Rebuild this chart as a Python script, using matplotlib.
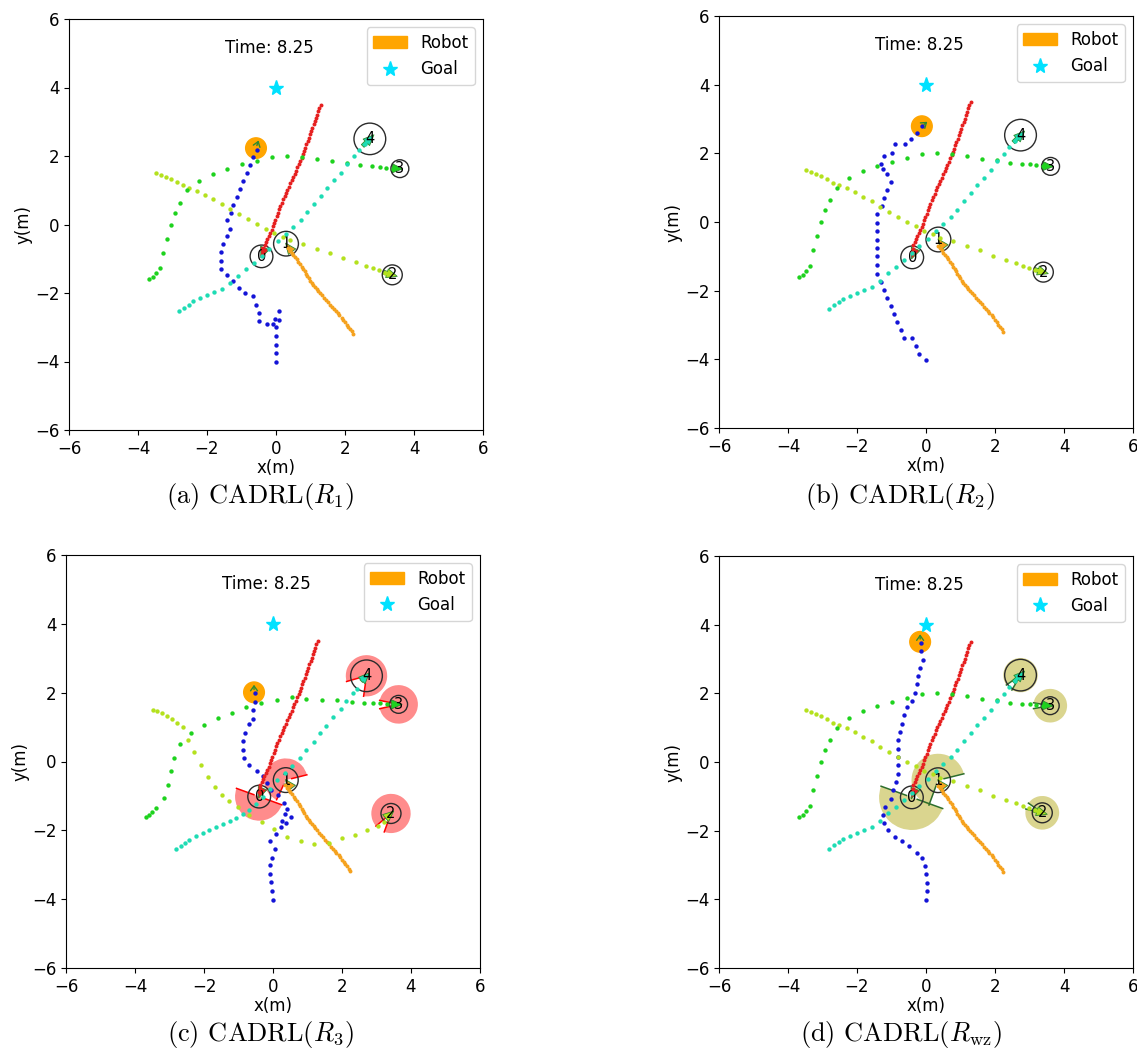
import matplotlib
matplotlib.use('Agg')
import numpy as np
import matplotlib.pyplot as plt
import matplotlib.patches as patches
import matplotlib.lines as mlines

plt.rcParams['mathtext.fontset'] = 'cm'

# ---------------- data (metres) ----------------
goal = (0.0, 4.0)
time_text = 'Time: 8.25'
captions = ['(a) CADRL($R_1$)', '(b) CADRL($R_2$)', '(c) CADRL($R_3$)', '(d) CADRL($R_{\\rm wz}$)']

# human trails shared by panels a, b, d
h0_trail = [(1.29, 3.50), (1.26, 3.40), (1.22, 3.31), (1.19, 3.21), (1.15, 3.11), (1.12, 3.01), (1.09, 2.92),
            (1.05, 2.82), (1.02, 2.72), (0.98, 2.63), (0.95, 2.53), (0.92, 2.43), (0.88, 2.34), (0.85, 2.24),
            (0.81, 2.14), (0.78, 2.05), (0.74, 1.95), (0.70, 1.86), (0.66, 1.76), (0.62, 1.67), (0.58, 1.57),
            (0.54, 1.48), (0.50, 1.39), (0.45, 1.29), (0.41, 1.20), (0.37, 1.10), (0.33, 1.01), (0.29, 0.92),
            (0.25, 0.82), (0.21, 0.73), (0.17, 0.63), (0.13, 0.53), (0.10, 0.44), (0.06, 0.34), (0.02, 0.24),
            (-0.02, 0.14), (-0.05, 0.05), (-0.09, -0.05), (-0.13, -0.15), (-0.17, -0.24), (-0.21, -0.33),
            (-0.25, -0.41), (-0.29, -0.50), (-0.33, -0.59), (-0.37, -0.68), (-0.39, -0.78), (-0.40, -0.88)]
h1_trail = [(2.24, -3.19), (2.19, -3.12), (2.14, -3.05), (2.10, -2.99), (2.05, -2.92), (2.00, -2.85), (1.95, -2.78),
            (1.90, -2.72), (1.84, -2.65), (1.79, -2.59), (1.73, -2.53), (1.68, -2.47), (1.62, -2.40), (1.57, -2.34),
            (1.51, -2.27), (1.45, -2.20), (1.40, -2.14), (1.34, -2.07), (1.28, -2.00), (1.23, -1.94), (1.18, -1.88),
            (1.13, -1.83), (1.08, -1.77), (1.03, -1.71), (0.99, -1.64), (0.95, -1.57), (0.91, -1.50), (0.87, -1.44),
            (0.83, -1.37), (0.79, -1.30), (0.74, -1.23), (0.69, -1.16), (0.65, -1.09), (0.60, -1.02), (0.55, -0.95),
            (0.50, -0.89), (0.46, -0.82), (0.41, -0.76), (0.36, -0.69)]
h2_trail = [(-3.48, 1.51), (-3.33, 1.45), (-3.19, 1.40), (-3.04, 1.33), (-2.88, 1.24), (-2.70, 1.15), (-2.52, 1.07),
            (-2.30, 0.98), (-2.07, 0.86), (-1.82, 0.74), (-1.57, 0.60), (-1.32, 0.44), (-1.06, 0.30), (-0.80, 0.15),
            (-0.54, 0.01), (-0.29, -0.13), (-0.05, -0.25), (0.19, -0.36), (0.41, -0.46), (0.77, -0.56), (1.18, -0.71),
            (1.57, -0.83), (1.95, -0.99), (2.32, -1.10), (2.61, -1.20), (2.80, -1.28), (2.99, -1.34), (3.15, -1.41)]
h3_trail = [(-3.67, -1.59), (-3.57, -1.54), (-3.48, -1.43), (-3.36, -1.27), (-3.28, -0.83), (-3.17, -0.41),
            (-3.05, 0.00), (-2.93, 0.34), (-2.77, 0.63), (-2.59, 1.00), (-2.24, 1.28), (-1.84, 1.48), (-1.42, 1.63),
            (-1.00, 1.76), (-0.56, 1.86), (-0.13, 1.97), (0.31, 2.00), (0.74, 1.97), (1.18, 1.91), (1.61, 1.84),
            (2.05, 1.80), (2.43, 1.73), (2.77, 1.70), (3.01, 1.68), (3.20, 1.65), (3.40, 1.63)]
h4_trail = [(-2.80, -2.53), (-2.66, -2.43), (-2.53, -2.34), (-2.40, -2.24), (-2.20, -2.15), (-2.01, -2.07),
            (-1.80, -1.98), (-1.57, -1.88), (-1.33, -1.71), (-1.09, -1.49), (-0.87, -1.30), (-0.64, -1.11),
            (-0.42, -0.91), (-0.19, -0.71), (0.05, -0.49), (0.29, -0.27), (0.50, -0.07), (0.72, 0.14), (0.91, 0.36),
            (1.11, 0.61), (1.30, 0.84), (1.49, 1.07), (1.68, 1.29), (1.87, 1.51), (2.07, 1.78), (2.26, 1.99),
            (2.42, 2.17), (2.58, 2.36)]

# panel c has its own paths for humans 2, 3, 4
h2_trail_c = [(-3.49, 1.51), (-3.35, 1.46), (-3.22, 1.40), (-3.08, 1.33), (-2.94, 1.24), (-2.78, 1.13), (-2.62, 1.01),
              (-2.46, 0.63), (-2.28, 0.27), (-2.09, -0.10), (-1.88, -0.46), (-1.68, -0.75), (-1.49, -0.97),
              (-1.27, -1.16), (-1.01, -1.33), (-0.69, -1.55), (-0.31, -1.77), (0.03, -1.96), (0.40, -2.19),
              (0.80, -2.32), (1.19, -2.40), (1.62, -2.38), (2.01, -2.22), (2.39, -2.13), (2.73, -1.99),
              (3.04, -1.87), (3.22, -1.76)]
h3_trail_c = [(-3.68, -1.60), (-3.60, -1.56), (-3.50, -1.48), (-3.38, -1.35), (-3.15, -1.07), (-3.05, -0.68),
              (-2.96, -0.27), (-2.86, 0.11), (-2.69, 0.51), (-2.38, 0.82), (-1.99, 1.07), (-1.59, 1.26),
              (-1.19, 1.42), (-0.77, 1.57), (-0.34, 1.69), (0.11, 1.79), (0.54, 1.88), (0.97, 1.83), (1.43, 1.79),
              (1.86, 1.79), (2.29, 1.74), (2.63, 1.71), (2.90, 1.69), (3.11, 1.69), (3.30, 1.67)]
h4_trail_c = [(-2.81, -2.54), (-2.68, -2.46), (-2.56, -2.38), (-2.43, -2.28), (-2.24, -2.17), (-2.04, -2.07),
              (-1.85, -1.98), (-1.66, -1.90), (-1.45, -1.81), (-1.25, -1.72), (-1.06, -1.63), (-0.88, -1.53),
              (-0.69, -1.41), (-0.50, -1.23), (-0.30, -1.03), (-0.10, -0.80), (0.13, -0.55), (0.35, -0.33),
              (0.56, -0.13), (0.78, 0.11), (0.97, 0.33), (1.19, 0.58), (1.36, 0.82), (1.55, 1.04), (1.75, 1.28),
              (1.96, 1.52), (2.13, 1.77), (2.32, 1.98), (2.44, 2.10)]

# robot trails
robot_a = [(0.00, -4.00), (0.00, -3.75), (0.00, -3.51), (0.00, -3.25), (0.00, -2.99), (-0.08, -2.90), (-0.02, -2.76),
           (0.10, -2.78), (0.08, -2.54), (-0.25, -2.90), (-0.48, -2.81), (-0.49, -2.57), (-0.58, -2.34), (-0.66, -2.10),
           (-0.90, -2.00), (-1.07, -1.84), (-1.26, -1.66), (-1.43, -1.47), (-1.60, -1.30), (-1.60, -1.06),
           (-1.60, -0.81), (-1.53, -0.56), (-1.43, -0.35), (-1.33, -0.12), (-1.41, 0.12), (-1.31, 0.35),
           (-1.24, 0.58), (-1.14, 0.80), (-1.04, 1.04), (-0.95, 1.28), (-0.85, 1.50), (-0.75, 1.74), (-0.66, 1.97),
           (-0.56, 2.18)]
robot_b = [(0.00, -4.01), (-0.19, -3.84), (-0.30, -3.62), (-0.40, -3.37), (-0.64, -3.37), (-0.73, -3.14),
           (-0.83, -2.91), (-0.92, -2.69), (-1.01, -2.46), (-1.12, -2.22), (-1.22, -1.97), (-1.31, -1.75),
           (-1.41, -1.50), (-1.41, -1.25), (-1.41, -1.00), (-1.41, -0.76), (-1.41, -0.51), (-1.41, -0.26),
           (-1.41, -0.02), (-1.41, 0.24), (-1.28, 0.46), (-1.21, 0.71), (-1.12, 0.92), (-1.02, 1.16), (-1.12, 1.39),
           (-1.24, 1.54), (-1.31, 1.70), (-1.21, 1.92), (-0.99, 2.02), (-0.90, 2.26), (-0.61, 2.26), (-0.43, 2.43),
           (-0.27, 2.60), (-0.11, 2.79)]
robot_c = [(-0.01, -4.01), (-0.03, -3.76), (-0.05, -3.50), (-0.09, -3.26), (-0.10, -3.01), (-0.03, -2.79),
           (0.05, -2.53), (-0.09, -2.30), (0.08, -2.11), (0.22, -1.91), (0.25, -1.74), (0.37, -1.80), (0.51, -1.60),
           (0.34, -1.53), (0.40, -1.39), (0.32, -1.22), (0.15, -0.97), (-0.05, -0.83), (-0.16, -0.63), (-0.28, -0.42),
           (-0.47, -0.27), (-0.69, -0.10), (-0.84, 0.09), (-0.86, 0.33), (-0.88, 0.60), (-0.81, 0.84), (-0.69, 1.08),
           (-0.57, 1.24), (-0.57, 1.50), (-0.53, 1.74), (-0.53, 1.98)]
robot_d = [(-0.01, -4.01), (0.02, -3.77), (0.02, -3.53), (0.00, -3.27), (-0.03, -3.03), (-0.13, -2.80),
           (-0.25, -2.64), (-0.49, -2.46), (-0.71, -2.30), (-0.90, -2.17), (-1.09, -1.99), (-1.22, -1.78),
           (-1.24, -1.55), (-1.19, -1.31), (-1.02, -1.07), (-0.97, -0.83), (-0.87, -0.58), (-0.80, -0.34),
           (-0.80, -0.10), (-0.80, 0.15), (-0.82, 0.39), (-0.82, 0.63), (-0.75, 0.87), (-0.71, 1.12), (-0.64, 1.36),
           (-0.54, 1.59), (-0.41, 1.78), (-0.32, 2.01), (-0.25, 2.27), (-0.22, 2.50), (-0.17, 2.74), (-0.10, 2.96),
           (-0.15, 3.24), (-0.15, 3.48)]

robot_pos = [(-0.58, 2.23), (-0.12, 2.79), (-0.55, 2.01), (-0.17, 3.50)]
robot_heading = [(0.10, 0.30), (0.22, 0.18), (0.00, 0.30), (0.00, 0.30)]
robot_radius = 0.3

human_pos = [
    [(-0.42, -0.93), (0.29, -0.56), (3.37, -1.47), (3.59, 1.63), (2.72, 2.50)],
    [(-0.40, -1.03), (0.36, -0.51), (3.40, -1.46), (3.61, 1.62), (2.74, 2.53)],
    [(-0.40, -1.02), (0.37, -0.54), (3.42, -1.51), (3.64, 1.66), (2.71, 2.49)],
    [(-0.41, -1.03), (0.35, -0.53), (3.37, -1.48), (3.60, 1.64), (2.74, 2.53)],
]
human_radius = [0.33, 0.36, 0.29, 0.26, 0.46]
human_heading = [(-0.12, -0.30), (-0.15, 0.20), (0.55, -0.17), (0.41, -0.02), (0.44, 0.44)]
human_heading_c = [(-0.12, -0.30), (-0.15, 0.20), (0.35, 0.30), (0.45, 0.00), (0.35, 0.35)]

# discomfort zones: (radius, theta1, theta2) in degrees
zones_c = [(0.70, 160, 340), (0.63, 14, 245), (0.57, 250, 220), (0.56, 193, 168), (0.60, 262, 196)]
zones_d = [(0.95, 160, 340), (0.77, 14, 250), (0.49, 167, 145), (0.49, 190, 170), (0.50, 240, 215)]

# trail colours: humans 0-4, robot
human_colors = ['#e62020', '#f5a21e', '#b4e11e', '#1ed21e', '#1edcb4']
robot_color_trail = '#1414d7'

# ---------------- drawing ----------------
goal_color = '#00e1ff'
arrow_edge = '#2e8b2e'

fig = plt.figure(figsize=(11.37, 10.6), dpi=100)
W, H = 1137.0, 1060.0
boxes = [(69, 19, 483, 430), (719, 16, 1133, 428), (66, 555, 480, 968), (719, 556, 1133, 968)]
cap_pos = [(260, 496), (900, 496), (260, 1035), (901, 1035)]


def draw_panel(ax, robot_trail, rpos, rhead, trails, hpos, hhead, zones=None, zcolor=None, ecolor=None):
    ax.set_xlim(-6, 6)
    ax.set_ylim(-6, 6)
    ax.set_xticks(range(-6, 7, 2))
    ax.set_yticks(range(-6, 7, 2))
    ax.tick_params(labelsize=12)
    ax.set_xlabel('x(m)', fontsize=12, labelpad=1)
    ax.set_ylabel('y(m)', fontsize=12, labelpad=2)

    if zones is not None:
        for (cx, cy), (r, t1, t2), hr in zip(hpos, zones, human_radius):
            ax.add_patch(patches.Wedge((cx, cy), r, t1, t2, facecolor=zcolor, edgecolor='none', zorder=1.5))
            for t in (t1, t2):
                a = np.deg2rad(t)
                r0 = hr * 0.5
                ax.plot([cx + r0 * np.cos(a), cx + r * np.cos(a)], [cy + r0 * np.sin(a), cy + r * np.sin(a)],
                        color=ecolor, lw=1.1, zorder=1.6)

    ax.add_patch(plt.Circle(rpos, robot_radius, color='orange', zorder=2.5))

    for i, ((cx, cy), (dx, dy)) in enumerate(zip(hpos, hhead)):
        ax.add_patch(patches.FancyArrowPatch((cx - 0.6 * dx, cy - 0.6 * dy), (cx + 0.4 * dx, cy + 0.4 * dy),
                                             arrowstyle='simple,head_length=0.7,head_width=0.6,tail_width=0.25',
                                             mutation_scale=11, facecolor=human_colors[i], edgecolor=arrow_edge,
                                             lw=0.6, zorder=2.6))
        ax.add_patch(plt.Circle((cx, cy), human_radius[i], fill=False, edgecolor='#2b2b2b', lw=1.0, zorder=2.7))
        ax.text(cx, cy, str(i), fontsize=10.5, color='black', ha='center', va='center', zorder=2.8)

    rx, ry = zip(*robot_trail)
    ax.scatter(rx, ry, s=10, color=robot_color_trail, linewidths=0, zorder=3)
    for i, tr in enumerate(trails):
        tx, ty = zip(*tr)
        ax.scatter(tx, ty, s=8 if i < 2 else 10, color=human_colors[i], linewidths=0, zorder=3)

    ax.add_patch(patches.FancyArrowPatch(rpos, (rpos[0] + rhead[0], rpos[1] + rhead[1]),
                                         arrowstyle='->,head_length=0.35,head_width=0.25', mutation_scale=10,
                                         color=arrow_edge, lw=1.0, zorder=4))

    robot_h = patches.Patch(color='orange')
    goal_h = mlines.Line2D([0], [4], color=goal_color, marker='*', linestyle='None', markersize=11)
    ax.plot([goal[0]], [goal[1]], marker='*', color=goal_color, markersize=11, linestyle='None', zorder=3)
    ax.text(-0.2, 5.0, time_text, fontsize=12, ha='center', va='baseline')
    ax.legend([robot_h, goal_h], ['Robot', 'Goal'], loc='upper right', fontsize=12)


panel_trails = [
    [h0_trail, h1_trail, h2_trail, h3_trail, h4_trail],
    [h0_trail, h1_trail, h2_trail, h3_trail, h4_trail],
    [h0_trail, h1_trail, h2_trail_c, h3_trail_c, h4_trail_c],
    [h0_trail, h1_trail, h2_trail, h3_trail, h4_trail],
]
robots = [robot_a, robot_b, robot_c, robot_d]
headings = [human_heading, human_heading, human_heading_c, human_heading]
zone_sets = [None, None, zones_c, zones_d]
zone_colors = [None, None, (1.0, 0.0, 0.0, 0.45), (0.78, 0.75, 0.33, 0.65)]
edge_colors = [None, None, 'red', '#2d6e2d']

for k in range(4):
    l, t, r, b = boxes[k]
    ax = fig.add_axes([l / W, 1 - b / H, (r - l) / W, (b - t) / H])
    draw_panel(ax, robots[k], robot_pos[k], robot_heading[k], panel_trails[k], human_pos[k], headings[k],
               zone_sets[k], zone_colors[k], edge_colors[k])
    cx, cy = cap_pos[k]
    fig.text(cx / W, 1 - cy / H, captions[k], fontsize=19, family='cmr10', ha='center', va='center')

fig.savefig('out.png', dpi=100)
